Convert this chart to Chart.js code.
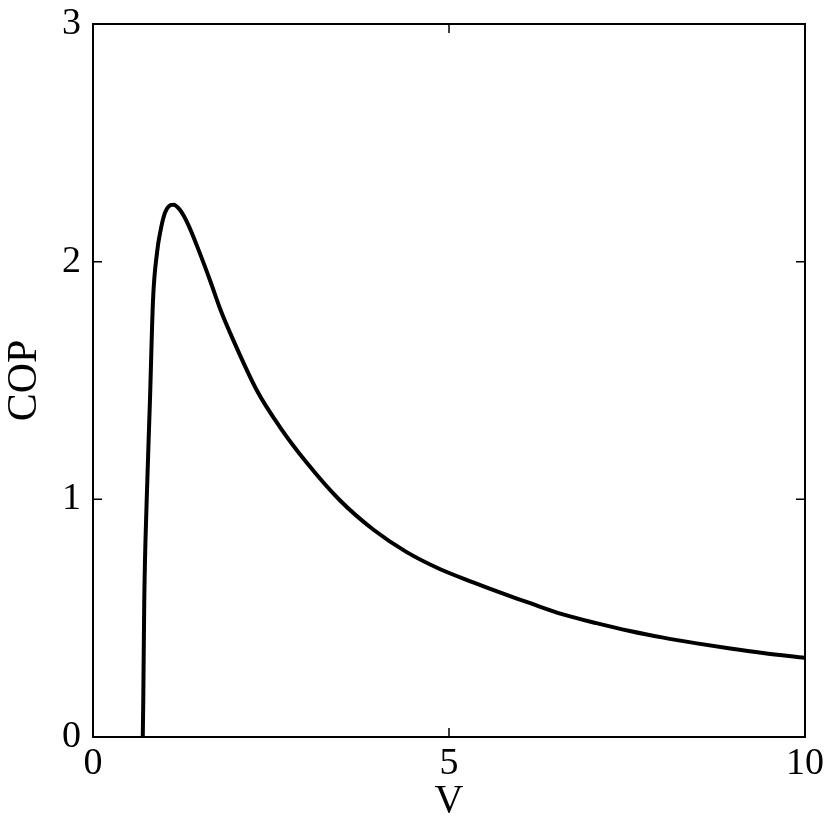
<!DOCTYPE html>
<html>
<head>
<meta charset="utf-8">
<script src="https://cdn.jsdelivr.net/npm/chart.js@4/dist/chart.umd.min.js"></script>
<style>
  html, body { margin: 0; padding: 0; background: #fff; }
  #wrap { width: 830px; height: 825px; }
</style>
</head>
<body>
<div id="wrap"><canvas id="c" width="830" height="825"></canvas></div>
<script>
const voltage = [0.699, 0.706, 0.720, 0.754, 0.800, 0.843, 0.900, 0.950, 1.010, 1.060, 1.127, 1.220, 1.340, 1.500, 1.643, 1.800, 1.970, 2.300, 2.630, 3.000, 3.470, 3.940, 4.400, 4.870, 5.340, 5.810, 6.140, 6.600, 7.070, 7.540, 8.010, 8.480, 8.950, 9.410, 10.000];
const cop =     [0.000, 0.152, 0.573, 0.995, 1.417, 1.838, 2.040, 2.133, 2.205, 2.232, 2.239, 2.218, 2.154, 2.036, 1.922, 1.790, 1.670, 1.459, 1.302, 1.155, 0.995, 0.872, 0.779, 0.707, 0.651, 0.598, 0.563, 0.516, 0.479, 0.446, 0.418, 0.394, 0.372, 0.353, 0.333];
const xTicks = [0, 5, 10];
const yTicks = [0, 1, 2, 3];
const xTitle = 'V';
const yTitle = 'COP';

const points = voltage.map((v, i) => ({ x: v, y: cop[i] }));
const FONT = "'Liberation Serif', 'DejaVu Serif', serif";

const frameTicks = {
  id: 'frameTicks',
  afterDatasetsDraw(chart) {
    const { ctx, chartArea: a, scales } = chart;
    const xs = scales.x, ys = scales.y;
    ctx.save();
    ctx.strokeStyle = '#000';
    ctx.lineWidth = 1.5;
    const L = 9;
    ctx.beginPath();
    xTicks.forEach(v => {
      if (v <= xs.min || v >= xs.max) return;
      const px = xs.getPixelForValue(v);
      ctx.moveTo(px, a.bottom); ctx.lineTo(px, a.bottom - L);
      ctx.moveTo(px, a.top); ctx.lineTo(px, a.top + L);
    });
    yTicks.forEach(v => {
      if (v <= ys.min || v >= ys.max) return;
      const py = ys.getPixelForValue(v);
      ctx.moveTo(a.left, py); ctx.lineTo(a.left + L, py);
      ctx.moveTo(a.right, py); ctx.lineTo(a.right - L, py);
    });
    ctx.stroke();
    ctx.lineWidth = 2;
    ctx.strokeRect(a.left, a.top, a.right - a.left, a.bottom - a.top);
    ctx.restore();
  }
};

new Chart(document.getElementById('c'), {
  type: 'scatter',
  data: {
    datasets: [{
      data: points,
      showLine: true,
      borderColor: '#000',
      borderWidth: 4,
      pointRadius: 0,
      cubicInterpolationMode: 'monotone',
      fill: false
    }]
  },
  options: {
    responsive: false,
    animation: false,
    devicePixelRatio: 1,
    layout: { padding: { top: 24, right: 25, left: 0, bottom: 0 } },
    plugins: { legend: { display: false }, tooltip: { enabled: false } },
    scales: {
      x: {
        type: 'linear', min: 0, max: 10,
        afterBuildTicks: s => { s.ticks = xTicks.map(v => ({ value: v })); },
        afterFit: s => { s.height = 88; },
        grid: { display: false, drawTicks: false },
        border: { display: false },
        ticks: { color: '#000', font: { family: FONT, size: 38 }, padding: 4, maxRotation: 0 },
        title: { display: true, text: xTitle, color: '#000', font: { family: FONT, size: 40 }, padding: { top: 4, bottom: 0 } }
      },
      y: {
        type: 'linear', min: 0, max: 3,
        afterBuildTicks: s => { s.ticks = yTicks.map(v => ({ value: v })); },
        afterFit: s => { s.width = 93; },
        grid: { display: false, drawTicks: false },
        border: { display: false },
        ticks: { color: '#000', font: { family: FONT, size: 38, lineHeight: 0.5 }, padding: 12 },
        title: { display: true, text: yTitle, color: '#000', font: { family: FONT, size: 42 }, padding: { top: 0, bottom: 0 } }
      }
    }
  },
  plugins: [frameTicks]
});
</script>
</body>
</html>
